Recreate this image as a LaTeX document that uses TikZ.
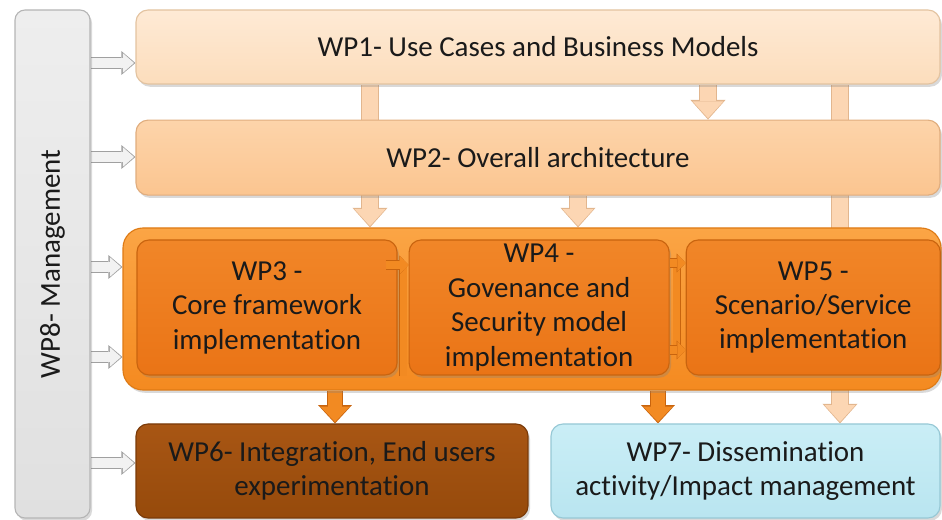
\documentclass[tikz,border=0pt]{standalone}
\usepackage{fontspec}
\setmainfont{Carlito}[Ligatures=NoCommon]
\usetikzlibrary{positioning,arrows.meta,shadows,backgrounds,calc}

\definecolor{grigiotop}{HTML}{EEEEEE}
\definecolor{grigiobot}{HTML}{E0E0E0}
\definecolor{grigiobordo}{HTML}{B5B5B5}
\definecolor{pesca1top}{HTML}{FEEAD5}
\definecolor{pesca1bot}{HTML}{FCDDBC}
\definecolor{pesca1bordo}{HTML}{E3C3A0}
\definecolor{pesca2top}{HTML}{FDD4AA}
\definecolor{pesca2bot}{HTML}{FBC590}
\definecolor{pesca2bordo}{HTML}{E0AD7E}
\definecolor{bloccotop}{HTML}{FBA545}
\definecolor{bloccobot}{HTML}{F48A20}
\definecolor{bloccobordo}{HTML}{DE7A14}
\definecolor{arantop}{HTML}{F18628}
\definecolor{aranbot}{HTML}{EA7416}
\definecolor{aranbordo}{HTML}{C9640F}
\definecolor{marronetop}{HTML}{A85614}
\definecolor{marronebot}{HTML}{964A0B}
\definecolor{marronebordo}{HTML}{7A3A08}
\definecolor{azzurrotop}{HTML}{CAEEF6}
\definecolor{azzurrobot}{HTML}{B9E5F0}
\definecolor{azzurrobordo}{HTML}{96C8D5}
\definecolor{frpesca}{HTML}{FCD6B3}
\definecolor{frpescabordo}{HTML}{E2B68E}
\definecolor{frarancio}{HTML}{F28A22}
\definecolor{frarancioBordo}{HTML}{C8640E}
\definecolor{frgrigio}{HTML}{F2F2F2}
\definecolor{frgrigiobordo}{HTML}{A0A0A0}
\definecolor{testo}{HTML}{1A1A1A}

\begin{document}
\begin{tikzpicture}[node distance={5mm}, thick,
    wp/.style = {draw, rounded corners=3mm, align=center, inner sep=0pt, text=testo,
        font=\fontsize{20.6}{24.5}\selectfont,
        drop shadow={opacity=0.3, shadow xshift=0.5mm, shadow yshift=-0.7mm}},
    grigio/.style = {wp, rounded corners=2.5mm, draw=grigiobordo, top color=grigiotop, bottom color=grigiobot},
    pesca1/.style = {wp, draw=pesca1bordo, top color=pesca1top, bottom color=pesca1bot},
    pesca2/.style = {wp, draw=pesca2bordo, top color=pesca2top, bottom color=pesca2bot},
    blocco/.style = {wp, rounded corners=5mm, draw=bloccobordo, top color=bloccotop, bottom color=bloccobot},
    arancio/.style = {wp, draw=aranbordo, top color=arantop, bottom color=aranbot,
        minimum height=3.375cm},
    marrone/.style = {wp, draw=marronebordo, top color=marronetop, bottom color=marronebot,
        minimum height=2.35cm},
    azzurro/.style = {wp, draw=azzurrobordo, top color=azzurrotop, bottom color=azzurrobot,
        minimum height=2.35cm},
    frecciamg/.style = {line width=7pt, draw=frgrigio, shorten >=1pt,
        -{Triangle[length=8pt,width=14pt,line width=0pt]},
        preaction={draw=frgrigiobordo, line width=8.6pt, shorten >=0pt,
            -{Triangle[length=10pt,width=17pt,line width=0pt]}}},
    frecciapesca/.style = {line width=11pt, draw=frpesca, shorten >=1pt,
        -{Triangle[length=12pt,width=22pt,line width=0pt]},
        preaction={draw=frpescabordo, line width=12.6pt, shorten >=0pt,
            -{Triangle[length=14pt,width=25pt,line width=0pt]}}},
    frecciaarancio/.style = {line width=10pt, draw=frarancio, shorten >=1pt,
        -{Triangle[length=11pt,width=21pt,line width=0pt]},
        preaction={draw=frarancioBordo, line width=11.6pt, shorten >=0pt,
            -{Triangle[length=13pt,width=24pt,line width=0pt]}}},
    frecciapiccola/.style = {line width=6pt, draw=frarancio,
        -{Triangle[length=6pt,width=12pt,line width=0pt]},
        preaction={draw=frarancioBordo, line width=7pt,
            -{Triangle[length=6.5pt,width=13.5pt,line width=0pt]}}},
    barra/.style = {line width=5pt, draw=frarancio,
        preaction={draw=frarancioBordo, line width=6pt}}]

    \useasboundingbox (0,0) rectangle (23.55,-13);

    % Disegna i riquadri
    \node[grigio, minimum width=1.875cm, minimum height=12.7cm] (wp8) at (1.3125,-6.6)
        {\rotatebox{90}{WP8- Management}};
    \node[pesca1, minimum width=20.1cm, minimum height=1.85cm] (wp1) at (13.45,-1.175)
        {WP1- Use Cases and Business Models};
    \node[pesca2, minimum width=20.1cm, minimum height=1.875cm] (wp2) [below=0.875cm of wp1]
        {WP2- Overall architecture};
    \node[blocco, minimum width=20.45cm, minimum height=4.05cm] (box) at (13.3,-7.725) {};
    \node[arancio, minimum width=6.5cm] (wp3) at (6.675,-7.6875)
        {WP3 -\\Core framework\\implementation};
    \node[arancio, minimum width=6.5cm] (wp4) [right=0.275cm of wp3]
        {WP4 -\\Govenance and\\Security model\\implementation};
    \node[arancio, minimum width=6.35cm] (wp5) [right=0.4cm of wp4]
        {WP5 -\\Scenario/Service\\implementation};
    \node[marrone, minimum width=9.8cm] (wp6) at (8.3,-11.775)
        {WP6- Integration, End users\\experimentation};
    \node[azzurro, minimum width=9.725cm] (wp7) at (18.6375,-11.775)
        {WP7- Dissemination\\activity/Impact management};

    % Frecce dietro i riquadri
    \begin{pgfonlayer}{background}
    \draw[frecciamg] (wp8.east |- 0,-1.575) -- (wp1.west |- 0,-1.575);
    \draw[frecciamg] (wp8.east |- 0,-3.925) -- (wp2.west |- 0,-3.925);
    \draw[frecciamg] (wp8.east |- 0,-6.675) -- (box.west |- 0,-6.675);
    \draw[frecciamg] (wp8.east |- 0,-8.925) -- (box.west |- 0,-8.925);
    \draw[frecciamg] (wp8.east |- 0,-11.575) -- (wp6.west |- 0,-11.575);

    \draw[frecciapesca] ([xshift=-4.2cm]wp1.south) coordinate (a1) -- (a1 |- box.north);
    \draw[frecciapesca] ([xshift=4.25cm]wp1.south) coordinate (a2) -- (a2 |- wp2.north);
    \draw[frecciapesca] ([xshift=7.55cm]wp1.south) coordinate (a3) -- (a3 |- wp7.north);
    \draw[frecciapesca] ([xshift=1cm]wp2.south) coordinate (a4) -- (a4 |- box.north);

    \draw[frecciaarancio] ([xshift=-4.925cm]box.south) coordinate (a5) -- (a5 |- wp6.north);
    \draw[frecciaarancio] ([xshift=3.15cm]box.south) coordinate (a6) -- (a6 |- wp7.north);
    \end{pgfonlayer}

    % Collegamenti dentro il blocco centrale
    \coordinate (g1) at ($(wp3.south east)!0.5!(wp4.south west)$);
    \draw[barra] (g1) -- (g1 |- 0,-6.625);
    \draw[frecciapiccola] ([xshift=-0.3cm]wp3.east |- 0,-6.625) -- (wp4.west |- 0,-6.625);
    \coordinate (g2) at ($(wp4.east)!0.45!(wp5.west)$);
    \draw[barra] (g2 |- 0,-6.575) -- (g2 |- 0,-8.75);
    \draw[frecciapiccola] (wp4.east |- 0,-6.575) -- (wp5.west |- 0,-6.575);
    \draw[frecciapiccola] (wp4.east |- 0,-8.75) -- (wp5.west |- 0,-8.75);

\end{tikzpicture}
\end{document}
